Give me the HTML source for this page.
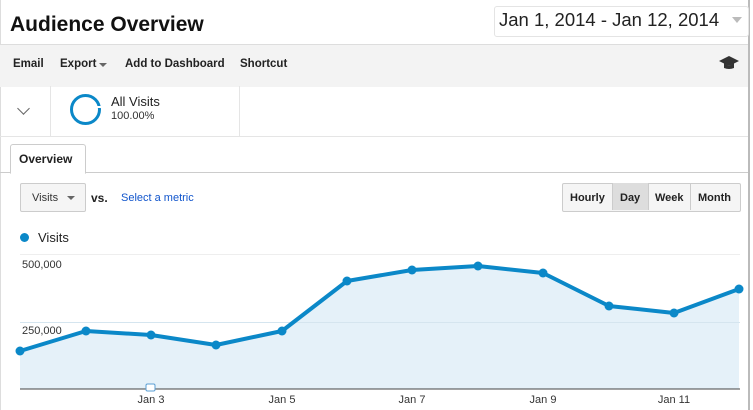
<!DOCTYPE html><html><head><style>
body{margin:0;width:753px;height:410px;overflow:hidden;background:#fff;font-family:"Liberation Sans",Arial,sans-serif;position:relative}
.a{position:absolute}
.b{font-weight:bold;font-size:11.5px;color:#222}
</style></head><body>
<div class="a" style="left:0;top:0;width:1px;height:410px;background:#ddd"></div>
<div class="a" style="left:748px;top:0;width:2px;height:410px;background:#bbb"></div>
<div class="a" style="left:10px;top:13px;font-size:21px;font-weight:bold;color:#111">Audience Overview</div>
<div class="a" style="left:494px;top:6px;width:253px;height:29px;border:1px solid #e4e4e4;border-radius:3px;background:#fff"></div>
<div class="a" style="left:499px;top:9px;font-size:18.5px;color:#222">Jan 1, 2014 - Jan 12, 2014</div>
<div class="a" style="left:732px;top:17px;width:0;height:0;border-left:5px solid transparent;border-right:5px solid transparent;border-top:6px solid #bbb"></div>
<div class="a" style="left:0;top:44px;width:748px;height:42px;background:#f3f3f3;border-top:1px solid #ddd"></div>
<div class="a b" style="left:13px;top:58px">Email</div>
<div class="a b" style="left:60px;top:58px">Export</div>
<div class="a" style="left:99px;top:63px;border-left:4px solid transparent;border-right:4px solid transparent;border-top:4px solid #666"></div>
<div class="a b" style="left:125px;top:58px">Add to Dashboard</div>
<div class="a b" style="left:240px;top:58px">Shortcut</div>
<svg class="a" style="left:719px;top:56px" width="20" height="14"><polygon points="0,5 10,0 20,5 10,10" fill="#333"/><path d="M5,7 L5,12 Q10,14 15,12 L15,7 L10,10 Z" fill="#333"/></svg>
<div class="a" style="left:50px;top:86px;width:1px;height:50px;background:#e5e5e5"></div>
<div class="a" style="left:239px;top:86px;width:1px;height:50px;background:#e5e5e5"></div>
<div class="a" style="left:0;top:136px;width:748px;height:1px;background:#e5e5e5"></div>
<div class="a" style="left:19px;top:104px;width:8px;height:8px;border-right:1.5px solid #666;border-bottom:1.5px solid #666;transform:rotate(45deg)"></div>
<div class="a" style="left:70px;top:94px;width:25px;height:25px;border:3.5px solid #0b88c8;border-radius:50%"></div>
<div class="a" style="left:95px;top:106px;width:6px;height:2px;background:#fff"></div>
<div class="a" style="left:111px;top:94px;font-size:13px;color:#222">All Visits</div>
<div class="a" style="left:111px;top:110px;font-size:11px;color:#333">100.00%</div>
<div class="a" style="left:0;top:172px;width:748px;height:1px;background:#ccc"></div>
<div class="a" style="left:10px;top:144px;width:74px;height:28px;border:1px solid #ccc;border-bottom:1px solid #fff;background:#fff;border-radius:3px 3px 0 0"></div>
<div class="a b" style="left:19px;top:152px;font-size:12px">Overview</div>
<div class="a" style="left:20px;top:183px;width:64px;height:27px;border:1px solid #ccc;border-radius:2px;background:#f5f5f5"></div>
<div class="a" style="left:32px;top:192px;font-size:11px;color:#333">Visits</div>
<div class="a" style="left:67px;top:196px;border-left:4px solid transparent;border-right:4px solid transparent;border-top:4px solid #666"></div>
<div class="a b" style="left:91px;top:191px;font-size:12px">vs.</div>
<div class="a" style="left:121px;top:192px;font-size:11px;color:#15c">Select a metric</div>
<div class="a" style="left:562px;top:183px;width:177px;height:27px;border:1px solid #ccc;border-radius:2px;background:#f5f5f5"></div>
<div class="a" style="left:612px;top:183px;width:35px;height:27px;background:#ddd;border-left:1px solid #ccc;border-right:1px solid #ccc"></div>
<div class="a" style="left:690px;top:183px;width:1px;height:27px;background:#ccc"></div>
<div class="a b" style="left:570px;top:192px;font-size:11px">Hourly</div>
<div class="a b" style="left:620px;top:192px;font-size:11px">Day</div>
<div class="a b" style="left:655px;top:192px;font-size:11px">Week</div>
<div class="a b" style="left:698px;top:192px;font-size:11px">Month</div>
<div class="a" style="left:20px;top:233px;width:9px;height:9px;border-radius:50%;background:#0b88c8"></div>
<div class="a" style="left:38px;top:230px;font-size:13px;color:#222">Visits</div>
<svg class="a" style="left:0;top:0" width="753" height="410">
<line x1="20" y1="254.5" x2="740" y2="254.5" stroke="#eee"/>
<polygon points="20,351 86,331 151,335 216,345 282,331 347,281 412,270 478,266 543,273 609,306 674,313 739,289 739,389 20,389" fill="#e5f1f9"/>
<line x1="20" y1="322.5" x2="740" y2="322.5" stroke="#d5e5ef"/>
<line x1="20" y1="389" x2="740" y2="389" stroke="#444" stroke-width="1"/>
<polyline points="20,351 86,331 151,335 216,345 282,331 347,281 412,270 478,266 543,273 609,306 674,313 739,289" fill="none" stroke="#0b88c8" stroke-width="4" stroke-linejoin="round"/>
<g fill="#0b88c8">
<circle cx="20" cy="351" r="4.5"/><circle cx="86" cy="331" r="4.5"/><circle cx="151" cy="335" r="4.5"/><circle cx="216" cy="345" r="4.5"/><circle cx="282" cy="331" r="4.5"/><circle cx="347" cy="281" r="4.5"/><circle cx="412" cy="270" r="4.5"/><circle cx="478" cy="266" r="4.5"/><circle cx="543" cy="273" r="4.5"/><circle cx="609" cy="306" r="4.5"/><circle cx="674" cy="313" r="4.5"/><circle cx="739" cy="289" r="4.5"/>
</g>
<rect x="146" y="384" width="9" height="7" rx="1.5" fill="#fff" stroke="#5a9fd4"/>
<g font-family="Liberation Sans,Arial,sans-serif" font-size="11" fill="#333">
<text x="22" y="268">500,000</text><text x="22" y="334">250,000</text>
<text x="151" y="403" text-anchor="middle">Jan 3</text>
<text x="282" y="403" text-anchor="middle">Jan 5</text>
<text x="412" y="403" text-anchor="middle">Jan 7</text>
<text x="543" y="403" text-anchor="middle">Jan 9</text>
<text x="674" y="403" text-anchor="middle">Jan 11</text>
</g>
</svg>
</body></html>
